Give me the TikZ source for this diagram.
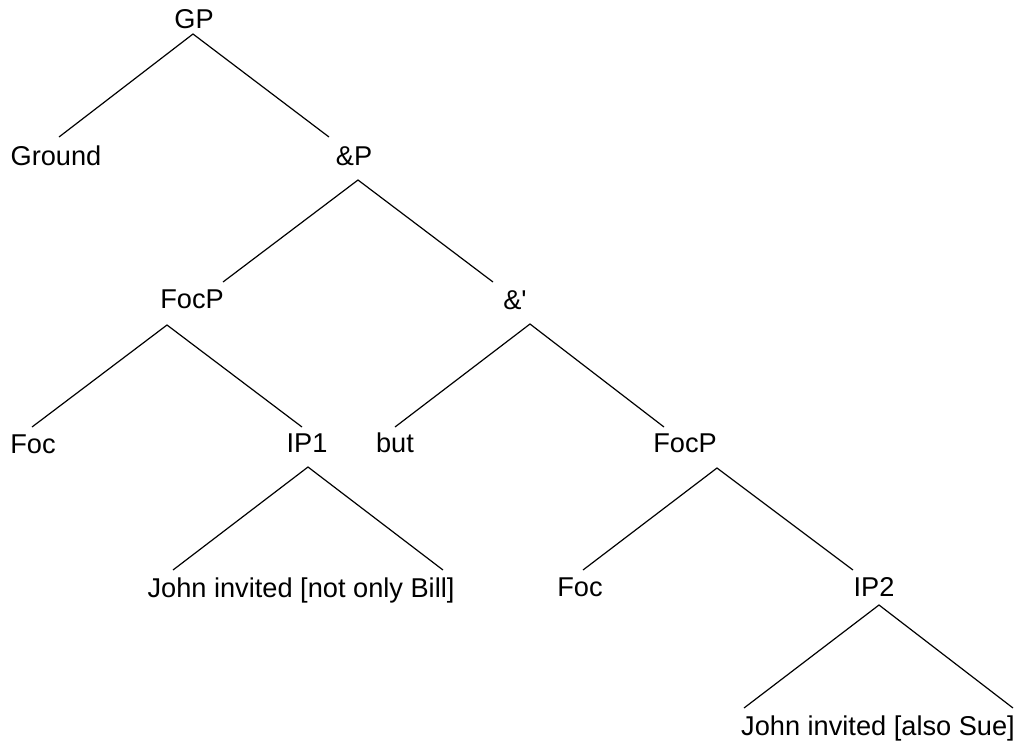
\documentclass[tikz,border=0pt]{standalone}
\usepackage{fontspec}
\setmainfont{Liberation Sans}

\tikzset{
	lbl/.style={inner sep=0pt, font=\fontsize{13.6}{16}\selectfont},
	branch/.style={line width=0.6pt}
}

\begin{document}
\begin{tikzpicture}[x=0.5pt, y=-0.5pt]

		\useasboundingbox (0,0) rectangle (1018,746);

		% etiquetas del arbol
		\node[lbl] (gp) at (194,19) {GP};
		\node[lbl] (ground) at (56,156) {Ground};
		\node[lbl] (andp) at (354,156) {\&P};
		\node[lbl] (focpa) at (192,299) {FocP};
		\node[lbl] (andbar) at (515,300) {\&\textquotesingle};
		\node[lbl] (foca) at (33,444) {Foc};
		\node[lbl] (ipa) at (307,443) {IP1};
		\node[lbl] (but) at (395,443) {but};
		\node[lbl] (focpb) at (685,443) {FocP};
		\node[lbl] (johna) at (301,590) {John invited [not only Bill]};
		\node[lbl] (focb) at (580,587) {Foc};
		\node[lbl] (ipb) at (874,587) {IP2};
		\node[lbl] (johnb) at (878,728) {John invited [also Sue]};

		% ramas
		\draw[branch] ([shift={(-25,-19)}]andp.center) -- ([shift={(-1,15)}]gp.center) -- ([shift={(3,-19)}]ground.center);
		\draw[branch] ([shift={(31,-17)}]focpa.center) -- ([shift={(4,24)}]andp.center) -- ([shift={(-22,-18)}]andbar.center);
		\draw[branch] ([shift={(-1,-17)}]foca.center) -- ([shift={(-25,26)}]focpa.center) -- ([shift={(-5,-16)}]ipa.center);
		\draw[branch] ([shift={(0,-16)}]but.center) -- ([shift={(15,24)}]andbar.center) -- ([shift={(-21,-16)}]focpb.center);
		\draw[branch] ([shift={(-128,-20)}]johna.center) -- ([shift={(1,24)}]ipa.center) -- ([shift={(142,-20)}]johna.center);
		\draw[branch] ([shift={(3,-17)}]focb.center) -- ([shift={(32,25)}]focpb.center) -- ([shift={(-21,-17)}]ipb.center);
		\draw[branch] ([shift={(-134,-20)}]johnb.center) -- ([shift={(5,18)}]ipb.center) -- ([shift={(135,-20)}]johnb.center);

	\end{tikzpicture}
\end{document}
